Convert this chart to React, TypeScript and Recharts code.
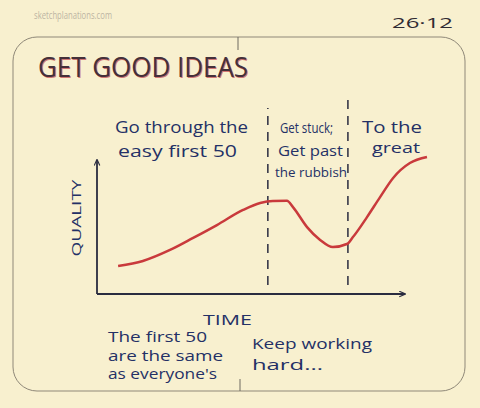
import React from 'react';
import { LineChart, Line, XAxis, YAxis, ReferenceLine } from 'recharts';

// time / quality
const time = [6.3, 13.7, 21.8, 28.7, 35.8, 43.6, 48.7, 52.5, 56.7, 58.5, 62.7, 66.6, 70.4, 74.6, 76.4, 80.6, 84.5, 88.4, 93.4, 98.5];
const quality = [13.7, 16.2, 21.6, 27.5, 33.8, 41.2, 44.6, 45.6, 45.7, 42.6, 32.8, 26.5, 23.0, 24.5, 27.9, 37.7, 47.5, 56.9, 64.2, 67.2];

// phase boundaries (time) and how high the dashes reach (quality)
const phaseBreaks = [51.0, 74.9];
const breakTops = [91.2, 98.0];
const breakBottom = 4.4;
const axisEnds = { time: 91.9, quality: 65.7 };

const data = time.map((t, i) => ({ t, q: quality[i] }));

const INK = '#243066';
const PEN = '#2a2c40';
const FONT = '"Open Sans", "DejaVu Sans", sans-serif';

function Note({ x, y, w, size = 16, children }: { x: number; y: number; w: number; size?: number; children: string }) {
    return (
        <text x={x} y={y} fontSize={size} fill={INK} fontFamily={FONT} textLength={w} lengthAdjust="spacingAndGlyphs">
            {children}
        </text>
    );
}

export default function App() {
    return (
        <div style={{ position: 'fixed', left: 0, top: 0, width: 480, height: 408, background: '#f8f0cf' }}>
            <svg width={0} height={0} style={{ position: 'absolute' }}>
                <defs>
                    <marker id="arrow" viewBox="0 0 10 10" refX="8" refY="5" markerWidth="7" markerHeight="7" orient="auto-start-reverse" markerUnits="userSpaceOnUse">
                        <path d="M0,1 L9,5 L0,9" fill="none" stroke={PEN} strokeWidth={1.6} />
                    </marker>
                </defs>
            </svg>
            <svg width={480} height={408} style={{ position: 'absolute', left: 0, top: 0 }}>
                <rect x={13} y={37} width={452} height={354} rx={24} ry={24} fill="none" stroke="#8f8878" strokeWidth={1} />
                <line x1={238} y1={37} x2={238} y2={50} stroke="#6f6a60" strokeWidth={1} />
                <line x1={240} y1={379} x2={240} y2={391} stroke="#6f6a60" strokeWidth={1} />
                <text x={34} y={19} fontSize={10} fill="#bdb5a3" fontFamily={FONT} textLength={78} lengthAdjust="spacingAndGlyphs">sketchplanations.com</text>
                <text x={392} y={28} fontSize={15} fill="#2f2b33" fontFamily={FONT} textLength={61} lengthAdjust="spacingAndGlyphs">26·12</text>
                <text x={39} y={78} fontSize={27} fontWeight={500} fill="#c0404c" fillOpacity={0.7} fontFamily={FONT} textLength={210} lengthAdjust="spacingAndGlyphs">GET GOOD IDEAS</text>
                <text x={38} y={77} fontSize={27} fontWeight={500} fill="#45303a" fontFamily={FONT} textLength={210} lengthAdjust="spacingAndGlyphs">GET GOOD IDEAS</text>
            </svg>
            <div style={{ position: 'absolute', left: 0, top: 0 }}>
                <LineChart width={480} height={408} data={data} margin={{ top: 90, right: 48, bottom: 114, left: 97 }}>
                    <XAxis type="number" dataKey="t" domain={[0, 100]} hide />
                    <YAxis type="number" domain={[0, 100]} hide />
                    <ReferenceLine segment={[{ x: 0, y: 0 }, { x: axisEnds.time, y: 0 }]} stroke={PEN} strokeWidth={1.8} markerEnd="url(#arrow)" ifOverflow="visible" />
                    <ReferenceLine segment={[{ x: 0, y: 0 }, { x: 0, y: axisEnds.quality }]} stroke={PEN} strokeWidth={1.8} markerEnd="url(#arrow)" ifOverflow="visible" />
                    {phaseBreaks.map((b, i) => (
                        <ReferenceLine key={b} segment={[{ x: b, y: breakBottom }, { x: b, y: breakTops[i] }]} stroke={PEN} strokeWidth={1.5} strokeDasharray="9 7" ifOverflow="visible" />
                    ))}
                    <Line type="monotone" dataKey="q" stroke="#c93a3c" strokeWidth={2.5} dot={false} isAnimationActive={false} />
                </LineChart>
            </div>
            <svg width={480} height={408} style={{ position: 'absolute', left: 0, top: 0, pointerEvents: 'none' }}>
                <Note x={115} y={133} w={133} size={17}>Go through the</Note>
                <Note x={118} y={157} w={119} size={17}>easy first 50</Note>
                <Note x={280} y={133} w={53} size={14}>Get stuck;</Note>
                <Note x={278} y={156} w={65} size={14}>Get past</Note>
                <Note x={275} y={177} w={72} size={13}>the rubbish</Note>
                <Note x={362} y={133} w={60} size={16}>To the</Note>
                <Note x={372} y={153} w={48} size={15}>great</Note>
                <text x={0} y={0} fontSize={13} fill={INK} fontFamily={FONT} textLength={77} lengthAdjust="spacingAndGlyphs" textAnchor="middle" transform="translate(81 218) rotate(-90)">QUALITY</text>
                <Note x={203} y={325} w={49} size={15}>TIME</Note>
                <Note x={108} y={342} w={99} size={15}>The first 50</Note>
                <Note x={108} y={361} w={115} size={14}>are the same</Note>
                <Note x={108} y={379} w={109} size={14}>as everyone's</Note>
                <Note x={252} y={349} w={120} size={14}>Keep working</Note>
                <Note x={252} y={370} w={71} size={14}>hard...</Note>
            </svg>
        </div>
    );
}
